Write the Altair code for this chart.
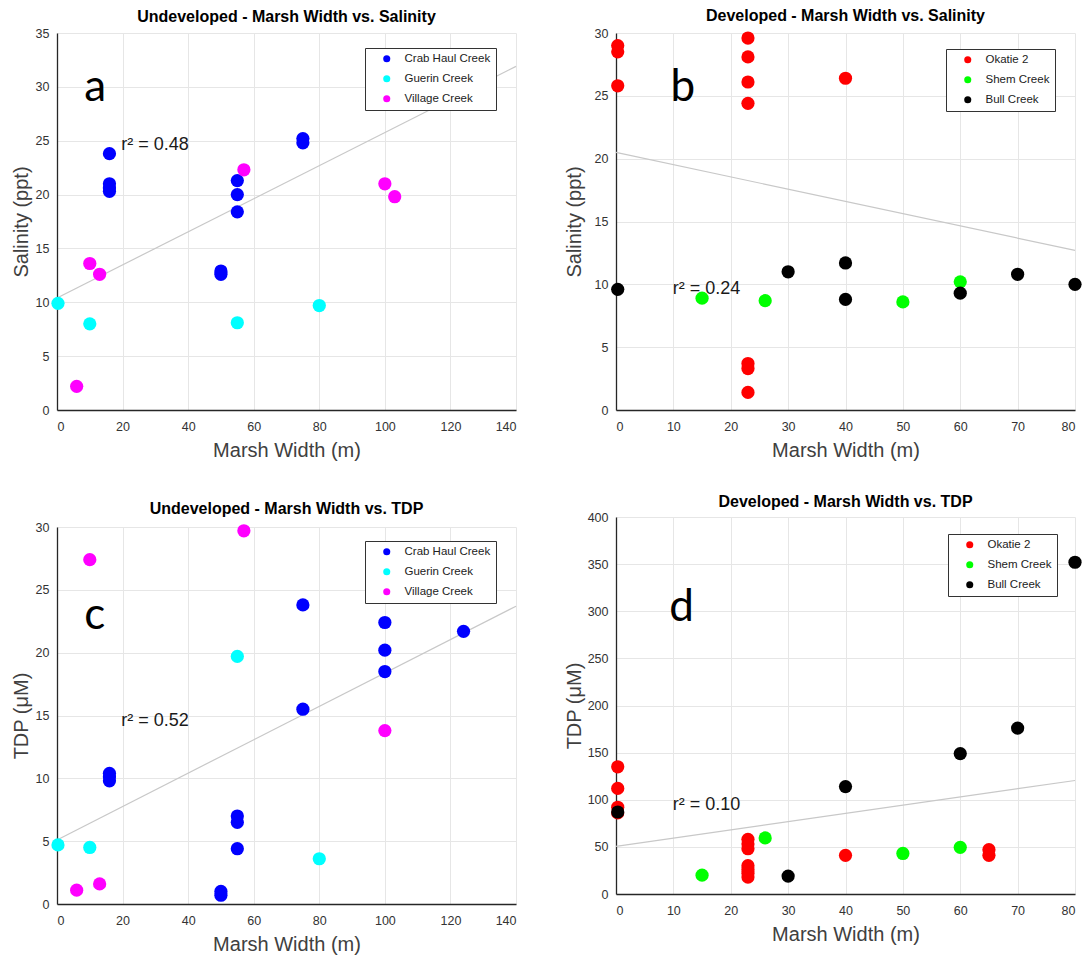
import altair as alt
import pandas as pd

# ---------------- data ----------------
und_sites = ["Crab Haul Creek", "Guerin Creek", "Village Creek"]
und_colors = ["#0000ff", "#00ffff", "#ff00ff"]
dev_sites = ["Okatie 2", "Shem Creek", "Bull Creek"]
dev_colors = ["#ff0000", "#00ff00", "#000000"]

# Panel a: Undeveloped salinity
a_crab_x = [16, 16, 16, 16, 50, 50, 55, 55, 55, 75, 75]
a_crab_y = [23.8, 21.0, 20.6, 20.3, 12.9, 12.6, 21.3, 20.0, 18.4, 25.2, 24.8]
a_guer_x = [0.3, 10, 55, 80]
a_guer_y = [9.9, 8.0, 8.1, 9.7]
a_vill_x = [6, 10, 13, 57, 100, 103]
a_vill_y = [2.2, 13.6, 12.6, 22.3, 21.0, 19.8]
a_fit_x = [0, 140]
a_fit_y = [10.4, 31.9]

# Panel b: Developed salinity
b_ok_x = [0.3, 0.3, 0.3, 23, 23, 23, 23, 23, 23, 23, 40]
b_ok_y = [29.0, 28.5, 25.8, 29.6, 28.1, 26.1, 24.4, 3.7, 3.3, 1.4, 26.4]
b_shem_x = [15, 26, 50, 60]
b_shem_y = [8.9, 8.7, 8.6, 10.2]
b_bull_x = [0.3, 30, 40, 40, 60, 70, 80]
b_bull_y = [9.6, 11.0, 11.7, 8.8, 9.3, 10.8, 10.0]
b_fit_x = [0, 80]
b_fit_y = [20.5, 12.7]

# Panel c: Undeveloped TDP
c_crab_x = [16, 16, 16, 50, 50, 55, 55, 55, 75, 75, 100, 100, 100, 124, 124]
c_crab_y = [10.4, 10.1, 9.8, 1.0, 0.7, 7.0, 6.5, 4.4, 23.8, 15.5, 22.4, 20.2, 18.5, 21.7, 24.4]
c_guer_x = [0.3, 10, 55, 80]
c_guer_y = [4.7, 4.5, 19.7, 3.6]
c_vill_x = [6, 10, 13, 57, 100]
c_vill_y = [1.1, 27.4, 1.6, 29.7, 13.8]
c_fit_x = [0, 140]
c_fit_y = [5.1, 23.7]

# Panel d: Developed TDP
d_ok_x = [0.3, 0.3, 0.3, 0.3, 23, 23, 23, 23, 23, 23, 23, 40, 65, 65]
d_ok_y = [135, 112, 92, 86, 58, 53, 48, 30, 26, 22, 18, 41, 47, 41]
d_shem_x = [15, 26, 50, 60]
d_shem_y = [20, 59.5, 43, 49.5]
d_bull_x = [0.3, 30, 40, 60, 70, 80]
d_bull_y = [87, 19, 114, 149, 176, 352]
d_fit_x = [0, 80]
d_fit_y = [50.6, 120.4]

# annotations
r2_texts = ["r² = 0.48", "r² = 0.24", "r² = 0.52", "r² = 0.10"]
r2_x = [19.6, 9.9, 19.6, 9.9]
r2_y = [24.1, 9.25, 14.2, 89.6]
letters = ["a", "b", "c", "d"]
letter_x = [8.3, 9.5, 8.3, 9.3]
letter_y = [28.7, 24.6, 21.9, 289.6]

titles = [
    "Undeveloped - Marsh Width vs. Salinity",
    "Developed - Marsh Width vs. Salinity",
    "Undeveloped - Marsh Width vs. TDP",
    "Developed - Marsh Width vs. TDP",
]

W, H = 459, 377
FONT = "Liberation Sans"


def make_df(groups):
    rows = []
    for site, xs, ys in groups:
        for x, y in zip(xs, ys):
            rows.append({"site": site, "x": x, "y": y})
    return pd.DataFrame(rows)


def panel(idx, groups, sites, colors, xmax, xstep, ymax, ystep, ytitle,
          fit_x, fit_y, legend_xy, title_offset, y_min_extent, y_title_pad):
    df = make_df(groups)
    xsc = alt.Scale(domain=[0, xmax], nice=False, zero=True)
    ysc = alt.Scale(domain=[0, ymax], nice=False, zero=True)
    xticks = list(range(0, xmax + 1, xstep))
    yticks = list(range(0, ymax + 1, ystep))
    xax = alt.Axis(values=xticks, title="Marsh Width (m)", format="d")
    yax = alt.Axis(values=yticks, title=ytitle, format="d",
                   minExtent=y_min_extent, titlePadding=y_title_pad)

    fit = alt.Chart(pd.DataFrame({"x": fit_x, "y": fit_y})).mark_line(
        color="#c8c8c8", strokeWidth=1.2
    ).encode(x=alt.X("x:Q", scale=xsc, axis=xax), y=alt.Y("y:Q", scale=ysc, axis=yax))

    pts = alt.Chart(df).mark_circle(size=175, opacity=1).encode(
        x=alt.X("x:Q", scale=xsc, axis=xax),
        y=alt.Y("y:Q", scale=ysc, axis=yax),
        color=alt.Color(
            "site:N",
            scale=alt.Scale(domain=sites, range=colors),
            legend=alt.Legend(
                title=None, orient="none", legendX=legend_xy[0], legendY=legend_xy[1],
                fillColor="white", strokeColor="#333333", padding=5,
                symbolType="circle", symbolSize=50, symbolOffset=11,
                labelOffset=12, labelFontSize=11.5, labelFont=FONT,
                labelColor="#222222", rowPadding=7, symbolStrokeWidth=0,
            ),
            sort=sites,
        ),
    )

    r2 = alt.Chart(pd.DataFrame({"x": [r2_x[idx]], "y": [r2_y[idx]], "t": [r2_texts[idx]]})).mark_text(
        align="left", baseline="alphabetic", fontSize=18, font=FONT, color="#1a1a1a"
    ).encode(x=alt.X("x:Q", scale=xsc), y=alt.Y("y:Q", scale=ysc), text="t:N")

    let = alt.Chart(pd.DataFrame({"x": [letter_x[idx]], "y": [letter_y[idx]], "t": [letters[idx]]})).mark_text(
        align="left", baseline="alphabetic", fontSize=44, font="Lato", color="black"
    ).encode(x=alt.X("x:Q", scale=xsc), y=alt.Y("y:Q", scale=ysc), text="t:N")

    return alt.layer(fit, pts, r2, let).properties(
        width=W, height=H,
        title=alt.TitleParams(titles[idx], fontSize=16, fontWeight="bold", font=FONT,
                              color="black", offset=title_offset, anchor="middle",
                              frame="group"),
    )


pa = panel(0, [(und_sites[0], a_crab_x, a_crab_y), (und_sites[1], a_guer_x, a_guer_y),
               (und_sites[2], a_vill_x, a_vill_y)], und_sites, und_colors,
           140, 20, 35, 5, "Salinity (ppt)", a_fit_x, a_fit_y, (308, 15), 2, 23, 3)
pb = panel(1, [(dev_sites[0], b_ok_x, b_ok_y), (dev_sites[1], b_shem_x, b_shem_y),
               (dev_sites[2], b_bull_x, b_bull_y)], dev_sites, dev_colors,
           80, 10, 30, 5, "Salinity (ppt)", b_fit_x, b_fit_y, (330, 16), 3, 30, 2)
pc = panel(2, [(und_sites[0], c_crab_x, c_crab_y), (und_sites[1], c_guer_x, c_guer_y),
               (und_sites[2], c_vill_x, c_vill_y)], und_sites, und_colors,
           140, 20, 30, 5, "TDP (μM)", c_fit_x, c_fit_y, (308, 14), 4, 23, 3)
pd_ = panel(3, [(dev_sites[0], d_ok_x, d_ok_y), (dev_sites[1], d_shem_x, d_shem_y),
                (dev_sites[2], d_bull_x, d_bull_y)], dev_sites, dev_colors,
            80, 10, 400, 50, "TDP (μM)", d_fit_x, d_fit_y, (332, 17), 1, 30, 2)

col1 = alt.vconcat(pa, pc, spacing=40).resolve_scale(color="independent").resolve_legend(color="independent")
col2 = alt.vconcat(pb, pd_, spacing=33).resolve_scale(color="independent").resolve_legend(color="independent")

chart = alt.hconcat(col1, col2, spacing=45).resolve_scale(color="independent").resolve_legend(
    color="independent"
).properties(
    padding={"left": 11, "top": 8, "right": 0, "bottom": 0},
    background="white",
).configure_view(stroke=None).configure_axis(
    labelFont=FONT, labelFontSize=12.5, labelColor="#333333",
    titleFont=FONT, titleFontSize=20, titleFontWeight="normal", titleColor="#404040",
    domainColor="#262626", domainWidth=1.3, gridColor="#e6e6e6", gridWidth=1,
    ticks=False, labelPadding=8,
).configure_axisX(labelPadding=10, titlePadding=8)

chart.save("out.html", embed_options={"renderer": "svg", "actions": False})
